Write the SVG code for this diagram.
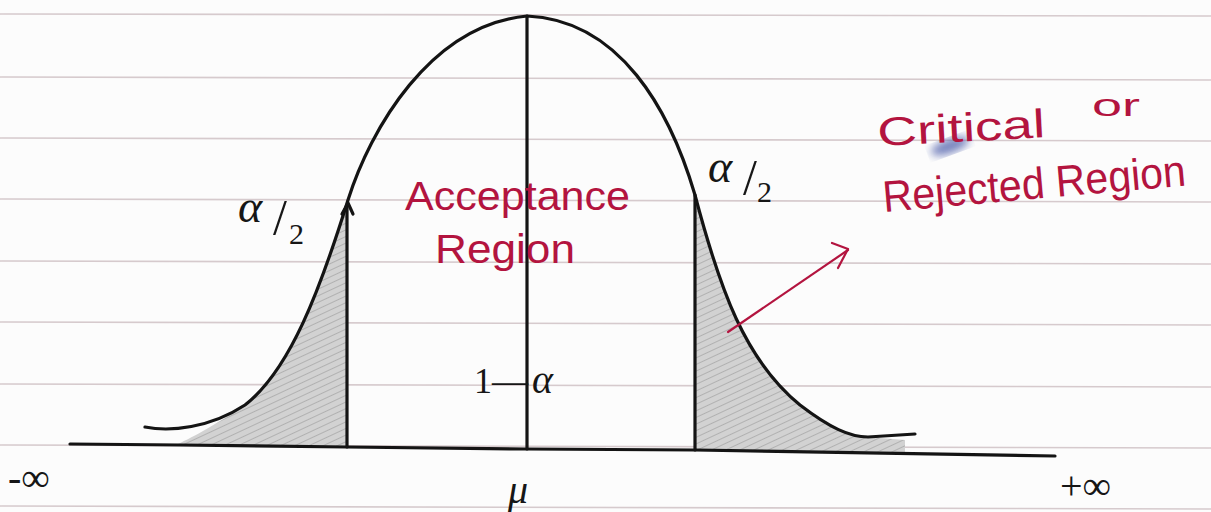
<svg xmlns="http://www.w3.org/2000/svg" width="1211" height="512" viewBox="0 0 1211 512">
<defs>
<style>
.rule{stroke:#d6cacd;stroke-width:1.6;fill:none}
.ink{stroke:#141414;stroke-width:3.2;fill:none;stroke-linecap:round;stroke-linejoin:round}
.shade{fill:url(#hatch);stroke:none}
.red{fill:#b3143f;font-family:"Liberation Sans",Arial,sans-serif}
.blk{fill:#161616;font-family:"Liberation Serif","Times New Roman",serif}
.redline{stroke:#b3143f;stroke-width:2.2;fill:none;stroke-linecap:round;stroke-linejoin:round}
</style>
<pattern id="hatch" patternUnits="userSpaceOnUse" width="6" height="6" patternTransform="rotate(65)">
<rect width="6" height="6" fill="#d2d2d2"/>
<line x1="0" y1="0" x2="0" y2="6" stroke="#a9a9a9" stroke-width="1.6"/>
</pattern>
<filter id="blur"><feGaussianBlur stdDeviation="4"/></filter>
</defs>
<rect width="1211" height="512" fill="#fcfcfc"/>
<g id="paper">
<path class="rule" d="M0,14 L1211,16"/>
<path class="rule" d="M0,77 L1211,80"/>
<path class="rule" d="M0,138 L1211,141"/>
<path class="rule" d="M0,199 L1211,202"/>
<path class="rule" d="M0,261 L1211,264"/>
<path class="rule" d="M0,322 L1211,325"/>
<path class="rule" d="M0,384 L1211,387"/>
<path class="rule" d="M0,445 L1211,448"/>
<path class="rule" d="M0,506 L1211,509"/>
<ellipse cx="950" cy="146" rx="20" ry="7" fill="#4a5aa8" opacity="0.75" filter="url(#blur)" transform="rotate(-20 950 146)"/>
</g>
<g id="shading">
<path class="shade" d="M348,203 C320,290 290,370 245,405 C215,425 195,436 178,444 L347,447 Z"/>
<path class="shade" d="M695,197 C720,290 745,360 800,405 C830,428 850,437 868,437 L905,440 L905,452 L695,449 Z"/>
</g>
<g id="curve">
<path class="ink" d="M145,427 C170,432 210,428 245,405 C290,370 320,290 348,200 C370,130 430,25 527,16 C620,20 670,110 695,195 C720,290 745,360 800,405 C830,428 850,437 868,437 L915,434"/>
</g>
<g id="axis">
<path class="ink" d="M70,444 L180,445 L347,447 L527,449 L695,450 L1055,456"/>
</g>
<g id="connectors">
<path class="ink" d="M347,447 L347,207"/>
<path class="ink" d="M342,214 L348,203 L353,214"/>
<path class="ink" d="M527,449 L527,16"/>
<path class="ink" d="M695,450 L695,195"/>
<path class="redline" d="M728,332 L848,250"/>
<path class="redline" d="M832,243 L848,249 L838,268"/>
</g>
<g id="labels">
<text class="blk" x="238" y="222" font-size="46" font-style="italic">α</text>
<text class="blk" x="273" y="234" font-size="50">/</text>
<text class="blk" x="289" y="244" font-size="30">2</text>
<text class="blk" x="708" y="182" font-size="46" font-style="italic">α</text>
<text class="blk" x="743" y="194" font-size="50">/</text>
<text class="blk" x="757" y="202" font-size="30">2</text>
<text class="red" x="405" y="210" font-size="40" textLength="225" lengthAdjust="spacingAndGlyphs">Acceptance</text>
<text class="red" x="435" y="263" font-size="40" textLength="140" lengthAdjust="spacingAndGlyphs">Region</text>
<text class="blk" x="474" y="393" font-size="36">1—</text>
<text class="blk" x="532" y="393" font-size="40" font-style="italic">α</text>
<text class="red" x="878" y="146" font-size="40" textLength="168" lengthAdjust="spacingAndGlyphs" transform="rotate(-3 878 146)">Critical</text>
<text class="red" x="1092" y="116" font-size="32" textLength="48" lengthAdjust="spacingAndGlyphs">or</text>
<text class="red" x="884" y="212" font-size="44" textLength="304" lengthAdjust="spacingAndGlyphs" transform="rotate(-5 884 212)">Rejected Region</text>
<text class="blk" x="8" y="491" font-size="40">-∞</text>
<text class="blk" x="508" y="503" font-size="40" font-style="italic">μ</text>
<text class="blk" x="1060" y="499" font-size="40">+∞</text>
</g>
</svg>
